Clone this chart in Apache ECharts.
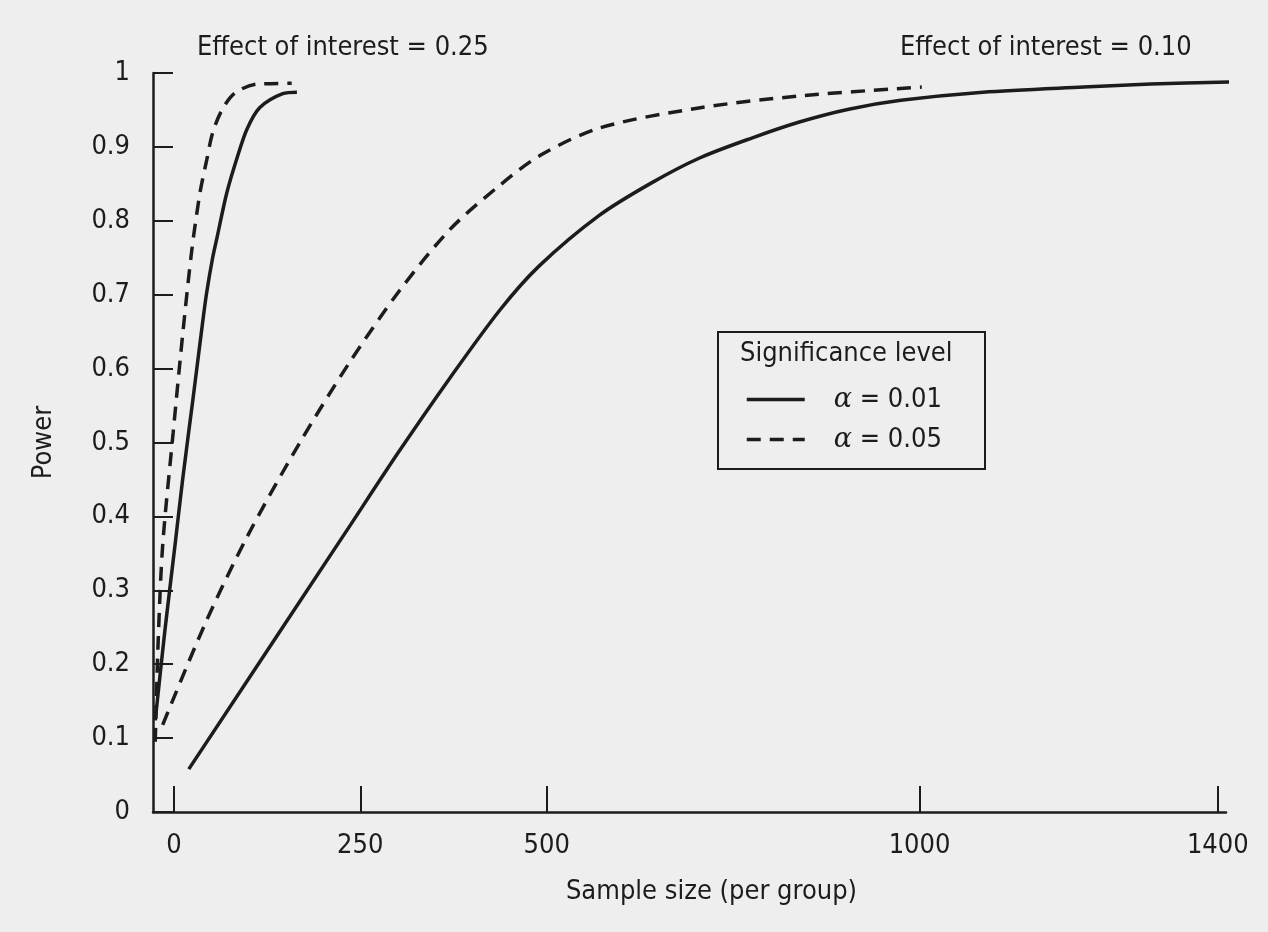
<!DOCTYPE html>
<html>
<head>
<meta charset="utf-8">
<title>Power vs sample size</title>
<script src="https://cdn.jsdelivr.net/npm/echarts@6.0.0/dist/echarts.min.js"></script>
<style>
  html, body { margin: 0; padding: 0; background: #eeeeee; }
  #chart { width: 1268px; height: 932px; }
</style>
</head>
<body>
<div id="chart"></div>
<script>
// power curves

var FONT = '"Liberation Sans Narrow", "DejaVu Sans Condensed", Roboto, sans-serif';
var INK = '#1c1c1c';

// x axis ticks
var sizeTicks = [0, 250, 500, 1000, 1400];

// effect of interest = 0.10
var n10a01 = [20, 230, 300, 370, 437, 490, 570, 640, 705, 775, 840, 905, 975, 1085, 1220, 1310, 1420];
var p10a01 = [0.058, 0.378, 0.485, 0.587, 0.679, 0.739, 0.807, 0.851, 0.885, 0.912, 0.934, 0.951, 0.963, 0.974, 0.981, 0.985, 0.988];
var n10a05 = [-15, 42, 98, 169, 236, 303, 370, 437, 492, 572, 706, 840, 1003];
var p10a05 = [0.118, 0.255, 0.372, 0.50, 0.609, 0.706, 0.788, 0.848, 0.889, 0.926, 0.953, 0.969, 0.981];

// effect of interest = 0.25
var n25a01 = [-25, -12, 1.5, 12, 26, 39, 44, 52, 58, 71, 85, 98, 115, 146, 165];
var p25a01 = [0.124, 0.246, 0.361, 0.452, 0.562, 0.666, 0.703, 0.75, 0.778, 0.838, 0.886, 0.924, 0.953, 0.972, 0.974];
var n25a05 = [-25, -21, -15, -1, 12, 24, 35, 44, 52, 64.5, 82, 111.5, 158];
var p25a05 = [0.095, 0.233, 0.361, 0.513, 0.648, 0.76, 0.838, 0.882, 0.919, 0.95, 0.973, 0.985, 0.986];

var legendNames = ['α = 0.01', 'α = 0.05'];

function pairs(xs, ys) {
    return xs.map(function (x, i) { return [x, ys[i]]; });
}

function curve(name, xs, ys, dashed) {
    return {
        name: name,
        type: 'line',
        data: pairs(xs, ys),
        smooth: 0.3,
        showSymbol: false,
        symbol: 'none',
        symbolSize: 0,
        clip: false,
        lineStyle: {
            color: INK,
            width: 3.5,
            type: dashed ? [14, 9] : 'solid'
        },
        itemStyle: { color: INK }
    };
}

var chart = echarts.init(document.getElementById('chart'));
chart.setOption({
    backgroundColor: '#eeeeee',
    animation: false,
    textStyle: { fontFamily: FONT },
    grid: { left: 153, top: 73, right: 42, bottom: 120 },
    xAxis: {
        type: 'value',
        min: -28,
        max: 1411,
        name: 'Sample size (per group)',
        nameLocation: 'middle',
        nameGap: 66,
        nameTextStyle: { fontSize: 27, color: INK, fontFamily: FONT, padding: [0, 0, 0, 44] },
        splitLine: { show: false },
        axisLine: { onZero: false, lineStyle: { color: INK, width: 2.5 } },
        axisTick: { inside: true, length: 26, customValues: sizeTicks, lineStyle: { color: INK, width: 2 } },
        axisLabel: {
            customValues: sizeTicks, fontSize: 27, color: INK, fontFamily: FONT, margin: 20,
            formatter: function (v) { return String(v); }
        }
    },
    yAxis: {
        type: 'value',
        min: 0,
        max: 1,
        interval: 0.1,
        name: 'Power',
        nameLocation: 'middle',
        nameRotate: 90,
        nameGap: 96,
        nameTextStyle: { fontSize: 27, color: INK, fontFamily: FONT },
        splitLine: { show: false },
        axisLine: { show: true, onZero: false, lineStyle: { color: INK, width: 2.5 } },
        axisTick: { show: true, inside: true, length: 20, lineStyle: { color: INK, width: 2 } },
        axisLabel: {
            fontSize: 27, color: INK, fontFamily: FONT, margin: 23,
            formatter: function (v) {
                return (v === 0 || v === 1) ? String(v) : v.toFixed(1);
            }
        }
    },
    legend: {
        data: legendNames,
        orient: 'vertical',
        left: 745,
        top: 386,
        padding: 0,
        itemWidth: 58,
        itemHeight: 14,
        itemGap: 13,
        itemStyle: { opacity: 0 },
        lineStyle: { width: 3.5 },
        textStyle: {
            fontSize: 27, color: INK, fontFamily: FONT,
            padding: [0, 0, 0, 24],
            rich: { a: { fontSize: 27, fontStyle: 'italic', fontFamily: 'DejaVu Serif, serif', color: INK } }
        },
        formatter: function (name) {
            return name.replace('α', '{a|α}');
        }
    },
    graphic: [
        {
            type: 'rect',
            shape: { x: 718, y: 332, width: 267, height: 137 },
            style: { fill: 'rgba(0,0,0,0)', stroke: INK, lineWidth: 2 }
        },
        {
            type: 'text',
            x: 740, y: 354,
            style: { text: 'Significance level', font: '27px ' + FONT, fill: INK, textVerticalAlign: 'middle' }
        },
        {
            type: 'text',
            x: 197, y: 48,
            style: { text: 'Effect of interest = 0.25', font: '27px ' + FONT, fill: INK, textVerticalAlign: 'middle' }
        },
        {
            type: 'text',
            x: 900, y: 48,
            style: { text: 'Effect of interest = 0.10', font: '27px ' + FONT, fill: INK, textVerticalAlign: 'middle' }
        }
    ],
    series: [
        curve(legendNames[0], n10a01, p10a01, false),
        curve(legendNames[1], n10a05, p10a05, true),
        curve(legendNames[0], n25a01, p25a01, false),
        curve(legendNames[1], n25a05, p25a05, true)
    ]
});
</script>
</body>
</html>
